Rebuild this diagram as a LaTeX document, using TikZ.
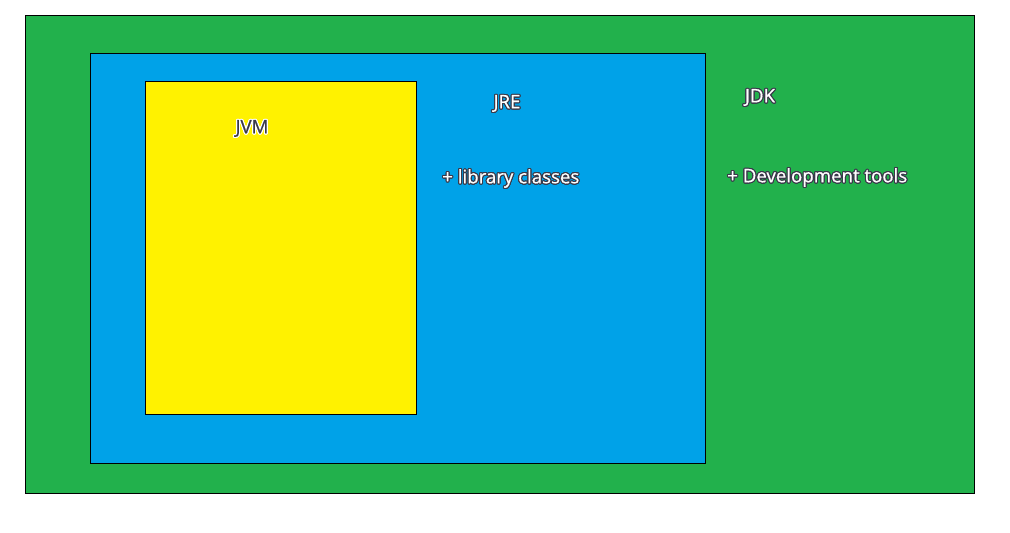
\documentclass[tikz,border=0pt]{standalone}
\usepackage{fontspec}
\setmainfont[FakeBold=0.6]{Open Sans}
\usepackage{contour}
\contournumber{16}
\definecolor{PaintGreen}{HTML}{22B14C}
\definecolor{PaintBlue}{HTML}{00A2E8}
\definecolor{PaintYellow}{HTML}{FFF200}
\definecolor{LabelDark}{HTML}{3A3A4A}
\newcommand{\lightlabel}[1]{\contourlength{0.8pt}\contour{LabelDark}{\textcolor{white}{#1}}}
\newcommand{\darklabel}[1]{\contourlength{0.8pt}\contour{white}{\textcolor{LabelDark}{#1}}}

\begin{document}
\begin{tikzpicture}[x=0.75pt, y=-0.75pt, font=\fontsize{14}{16}\selectfont]
    \useasboundingbox (0,0) rectangle (1010,532);
    \tikzset{layer/.style={draw=black, line width=0.7pt}}

    % nested boxes
    \draw[layer, fill=PaintGreen] (25,15) rectangle (974,493);
    \draw[layer, fill=PaintBlue] (90,53) rectangle (705,463);
    \draw[layer, fill=PaintYellow] (145,81) rectangle (416,414);

    % labels
    \node (jvm) at (252,129) {\darklabel{JVM}};
    \node (jre) at (507,104) {\lightlabel{JRE}};
    \node[anchor=west, inner sep=0pt] (libs) at (442,179) {\lightlabel{+ library classes}};
    \node (jdk) at (760,98) {\lightlabel{JDK}};
    \node[anchor=west, inner sep=0pt] (tools) at (727,178) {\lightlabel{+ Development tools}};
\end{tikzpicture}
\end{document}
